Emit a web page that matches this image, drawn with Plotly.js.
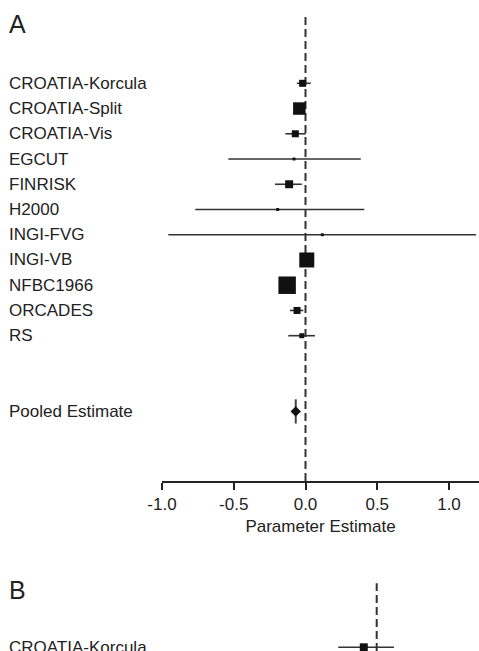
<!DOCTYPE html>
<html>
<head>
<meta charset="utf-8">
<script src="https://cdn.plot.ly/plotly-3.0.1.min.js"></script>
<style>
html,body{margin:0;padding:0;background:#fff;overflow:hidden;}
#chart{width:479px;height:651px;}
</style>
</head>
<body>
<div id="chart"></div>
<script>
// ---- Panel A data ----
var studiesA = ['CROATIA-Korcula','CROATIA-Split','CROATIA-Vis','EGCUT','FINRISK','H2000','INGI-FVG','INGI-VB','NFBC1966','ORCADES','RS'];
var estA  = [-0.020, -0.043, -0.071, -0.080, -0.114, -0.194,  0.117,  0.009, -0.128, -0.059, -0.026];
var lowA  = [-0.060, -0.075, -0.140, -0.538, -0.213, -0.768, -0.956, -0.020, -0.160, -0.108, -0.120];
var highA = [ 0.036, -0.010,  0.002,  0.385, -0.026,  0.410,  1.188,  0.040, -0.095, -0.015,  0.066];
var weightA = [5.2, 16.4, 5.2, 0.9, 6.7, 0.9, 0.9, 23.7, 32.2, 5.2, 2.6];
var pooledLabel = 'Pooled Estimate';
var pooledA = -0.068;

// ---- Panel B data (only first row visible) ----
var studiesB = ['CROATIA-Korcula'];
var estB  = [-0.090];
var lowB  = [-0.268];
var highB = [0.120];
var weightB = [6.7];

var tickVals = [-1.0, -0.5, 0.0, 0.5, 1.0];
var tickText = ['-1.0', '-0.5', '0.0', '0.5', '1.0'];

var FONT = 'Liberation Sans, Arial, sans-serif';
var INK = '#222';
var W = 479, H = 651;

function rows(n){ var r=[]; for(var i=0;i<n;i++) r.push(i); return r; }
function sizes(w){ return w.map(function(v){ return 3.08*Math.sqrt(v); }); }
function errPlus(est, hi){ return est.map(function(e,i){ return hi[i]-e; }); }
function errMinus(est, lo){ return est.map(function(e,i){ return e-lo[i]; }); }

var rowsA = rows(studiesA.length);
var rowsB = rows(studiesB.length);
var pooledRow = studiesA.length + 2;

function ciTrace(est, lo, hi, r, xa, ya){
  return {
    type:'scatter', mode:'markers', x:est, y:r, xaxis:xa, yaxis:ya,
    marker:{size:1, color:'rgba(0,0,0,0)', opacity:1},
    error_x:{type:'data', symmetric:false, array:errPlus(est,hi), arrayminus:errMinus(est,lo),
             color:'#333', thickness:1.6, width:0},
    cliponaxis:false, hoverinfo:'skip'
  };
}
function boxTrace(est, w, r, xa, ya){
  return {
    type:'scatter', mode:'markers', x:est, y:r, xaxis:xa, yaxis:ya,
    marker:{symbol:'square', size:sizes(w), color:'#111', opacity:1, line:{width:0}},
    cliponaxis:false, hoverinfo:'skip'
  };
}

var traces = [
  ciTrace(estA, lowA, highA, rowsA, 'x', 'y'),
  boxTrace(estA, weightA, rowsA, 'x', 'y'),
  { // pooled vertical bar
    type:'scatter', mode:'lines', x:[pooledA, pooledA], y:[pooledRow-0.48, pooledRow+0.48],
    xaxis:'x', yaxis:'y', line:{color:'#444', width:2}, hoverinfo:'skip'
  },
  { // pooled diamond
    type:'scatter', mode:'markers', x:[pooledA], y:[pooledRow], xaxis:'x', yaxis:'y',
    marker:{symbol:'diamond', size:8, color:'#111', opacity:1}, hoverinfo:'skip'
  },
  ciTrace(estB, lowB, highB, rowsB, 'x2', 'y2'),
  boxTrace(estB, weightB, rowsB, 'x2', 'y2')
];

var annotations = [];
studiesA.forEach(function(s,i){
  annotations.push({text:s, xref:'paper', yref:'y', x:7/W, y:i, xanchor:'left', yanchor:'middle',
    showarrow:false, font:{family:FONT, size:17, color:INK}});
});
annotations.push({text:pooledLabel, xref:'paper', yref:'y', x:7/W, y:pooledRow, xanchor:'left', yanchor:'middle',
  showarrow:false, font:{family:FONT, size:17, color:INK}});
studiesB.forEach(function(s,i){
  annotations.push({text:s, xref:'paper', yref:'y2', x:7/W, y:i, xanchor:'left', yanchor:'middle',
    showarrow:false, font:{family:FONT, size:17, color:INK}});
});
annotations.push({text:'A', xref:'paper', yref:'paper', x:7/W, y:(H-24)/H, xanchor:'left', yanchor:'middle',
  showarrow:false, font:{family:FONT, size:25, color:INK}});
annotations.push({text:'B', xref:'paper', yref:'paper', x:7/W, y:(H-590)/H, xanchor:'left', yanchor:'middle',
  showarrow:false, font:{family:FONT, size:25, color:INK}});

var xLeft = 162, zeroA = 305.5, pxPerUnit = 143.5, zeroB = 376.7;

var layout = {
  width:W, height:H, margin:{l:0,r:0,t:0,b:0},
  paper_bgcolor:'#fff', plot_bgcolor:'rgba(0,0,0,0)', showlegend:false,
  font:{family:FONT, color:INK},
  xaxis:{
    domain:[xLeft/W, 1], anchor:'y',
    range:[(xLeft-zeroA)/pxPerUnit, (W-zeroA)/pxPerUnit],
    showgrid:false, zeroline:false, showline:true, linewidth:2, linecolor:INK,
    ticks:'outside', ticklen:7, tickwidth:2, tickcolor:INK,
    tickmode:'array', tickvals:tickVals, ticktext:tickText,
    tickfont:{family:FONT, size:17, color:INK},
    title:{text:'Parameter Estimate', font:{family:FONT, size:17, color:INK}, standoff:7}
  },
  yaxis:{
    domain:[(H-481)/H, (H-17)/H], anchor:'x',
    range:[(481-83.3)/25.24, (17-83.3)/25.24],
    showgrid:false, zeroline:false, showline:false, showticklabels:false, ticks:''
  },
  xaxis2:{
    domain:[xLeft/W, 1], anchor:'y2',
    range:[(xLeft-zeroB)/pxPerUnit, (W-zeroB)/pxPerUnit],
    showgrid:false, zeroline:false, showline:false, showticklabels:false, ticks:''
  },
  yaxis2:{
    domain:[0, (H-583.3)/H], anchor:'x2',
    range:[(651-647.3)/25.24, (583.3-647.3)/25.24],
    showgrid:false, zeroline:false, showline:false, showticklabels:false, ticks:''
  },
  shapes:[
    {type:'line', xref:'x', yref:'y domain', x0:0, x1:0, y0:0, y1:1, layer:'below',
     line:{color:'#333', width:2, dash:'8px,4px'}},
    {type:'line', xref:'x2', yref:'y2 domain', x0:0, x1:0, y0:0, y1:1, layer:'below',
     line:{color:'#333', width:2, dash:'8px,4px'}}
  ],
  annotations:annotations
};

Plotly.newPlot('chart', traces, layout, {staticPlot:true, displayModeBar:false});
</script>
</body>
</html>
